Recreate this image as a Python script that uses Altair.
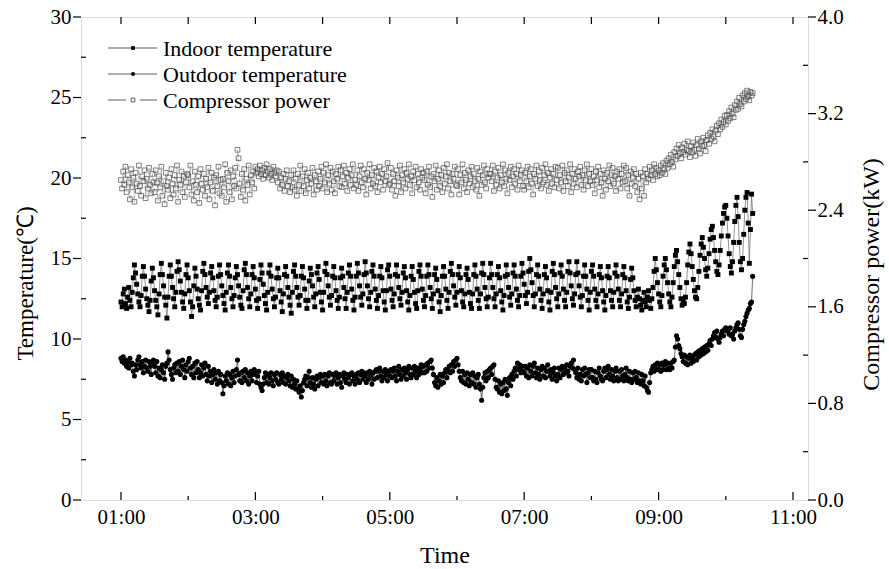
import altair as alt
import pandas as pd

# ---------------- data (sampled every 1 min from 01:00) ----------------
START_MIN = 60
STEP_MIN = 1

indoor_temp = [
    12.3, 12.0, 12.8, 13.1, 12.2, 11.9, 12.6, 13.2, 12.4, 12.0,
    12.9, 13.8, 14.6, 14.1, 13.4, 12.8, 12.3, 12.0, 12.7, 13.9,
    14.5, 13.9, 13.1, 12.5, 12.1, 11.7, 12.4, 13.6, 14.4, 13.8,
    13.0, 12.4, 12.0, 11.5, 12.8, 14.0, 14.7, 14.0, 13.3, 12.6,
    12.1, 11.3, 12.6, 13.9, 14.6, 13.9, 13.2, 12.5, 12.0, 12.9,
    14.2, 14.8, 14.3, 13.6, 12.9, 12.3, 11.9, 12.8, 14.0, 14.6,
    13.8, 13.0, 12.3, 11.4, 12.0, 13.3, 14.4, 13.9, 13.1, 12.5,
    12.1, 11.8, 13.0, 14.2, 14.7, 14.0, 13.2, 12.6, 12.2, 12.9,
    14.1, 14.5, 13.8, 13.0, 12.4, 12.0, 12.6, 13.9, 14.6, 14.0,
    13.3, 12.7, 12.2, 11.8, 12.9, 14.1, 14.6, 13.9, 13.2, 12.5,
    12.0, 12.7, 13.8, 14.5, 14.0, 13.3, 12.6, 12.1, 11.9, 13.0,
    14.3, 14.7, 14.0, 13.2, 12.5, 12.0, 12.8, 14.0, 14.5, 13.8,
    13.1, 12.4, 11.9, 12.5, 13.7, 14.6, 14.1, 13.4, 12.7, 12.2,
    11.8, 12.9, 14.1, 14.6, 13.9, 13.1, 12.5, 12.0, 12.6, 13.8,
    14.4, 13.8, 13.0, 12.3, 11.7, 12.8, 14.0, 14.5, 13.9, 13.2,
    12.6, 12.1, 11.6, 12.9, 14.2, 14.6, 13.9, 13.2, 12.6, 12.1,
    12.7, 13.9, 14.5, 13.8, 13.1, 12.4, 11.9, 12.4, 13.6, 14.4,
    14.0, 13.3, 12.6, 12.0, 12.8, 14.1, 14.5, 13.7, 12.9, 12.3,
    11.8, 12.9, 14.2, 14.7, 14.0, 13.3, 12.6, 12.1, 12.7, 13.9,
    14.5, 13.8, 13.0, 12.4, 11.9, 12.6, 13.8, 14.4, 13.9, 13.2,
    12.5, 11.9, 12.9, 14.1, 14.6, 13.9, 13.1, 12.4, 11.8, 12.6,
    13.9, 14.7, 14.1, 13.3, 12.6, 12.1, 12.8, 14.0, 14.8, 14.1,
    13.3, 12.5, 12.0, 12.9, 14.2, 14.6, 13.9, 13.1, 12.4, 11.9,
    12.7, 13.9, 14.5, 13.8, 13.0, 12.3, 11.8, 13.0, 14.3, 14.6,
    13.9, 13.1, 12.4, 12.0, 12.8, 14.0, 14.6, 13.9, 13.2, 12.5,
    12.1, 12.9, 14.1, 14.5, 13.8, 13.0, 12.3, 11.8, 12.7, 13.9,
    14.5, 13.7, 12.9, 12.2, 11.9, 13.0, 14.2, 14.6, 13.9, 13.1,
    12.4, 12.0, 12.7, 13.9, 14.6, 14.0, 13.2, 12.5, 11.9, 12.8,
    14.0, 14.4, 13.7, 13.0, 12.3, 11.7, 12.7, 13.9, 14.5, 13.9,
    13.1, 12.4, 11.9, 12.9, 14.2, 14.7, 14.0, 13.3, 12.6, 12.1,
    12.9, 14.0, 14.5, 13.8, 13.0, 12.3, 12.0, 12.8, 14.0, 14.4,
    13.7, 12.9, 12.2, 11.9, 12.8, 14.0, 14.6, 13.9, 13.1, 12.4,
    11.9, 12.8, 14.1, 14.7, 14.0, 13.2, 12.5, 12.0, 12.6, 13.8,
    14.7, 14.0, 13.2, 12.5, 12.0, 12.8, 14.0, 14.5, 13.8, 13.0,
    12.3, 11.8, 12.7, 13.9, 14.6, 14.0, 13.2, 12.6, 12.1, 12.8,
    14.1, 14.6, 13.9, 13.1, 12.4, 12.0, 12.7, 13.9, 14.7, 14.1,
    13.4, 12.7, 12.2, 12.9, 14.2, 15.0, 14.3, 13.5, 12.7, 12.0,
    12.8, 14.0, 14.6, 13.9, 13.1, 12.4, 11.9, 12.8, 14.0, 14.5,
    13.8, 13.0, 12.3, 11.8, 12.9, 14.2, 14.7, 14.0, 13.2, 12.5,
    12.0, 12.8, 14.1, 14.6, 13.9, 13.1, 12.4, 12.0, 12.9, 14.2,
    14.8, 14.1, 13.3, 12.5, 12.1, 12.8, 14.0, 14.8, 14.1, 13.3,
    12.6, 12.0, 12.7, 13.9, 14.6, 13.9, 13.1, 12.4, 11.8, 12.9,
    14.2, 14.6, 13.9, 13.1, 12.4, 12.0, 12.8, 14.0, 14.5, 13.8,
    13.0, 12.3, 11.8, 12.7, 13.9, 14.5, 13.8, 13.0, 12.4, 12.0,
    12.9, 14.1, 14.6, 13.9, 13.1, 12.4, 12.0, 12.8, 14.0, 14.5,
    13.8, 13.0, 12.3, 11.9, 12.6, 13.7, 14.4, 13.8, 13.0, 12.4,
    12.0, 12.6, 13.1, 12.5, 12.1, 11.8, 12.4, 12.9, 12.3, 12.0,
    12.6, 13.0, 12.4, 11.9, 12.5, 13.2, 14.2, 15.0, 14.3, 13.5,
    12.8, 12.3, 12.0, 12.7, 13.9, 14.6, 15.0, 14.3, 13.5, 12.8,
    12.3, 12.0, 12.6, 13.5, 14.5, 15.2, 15.5, 14.8, 14.0, 13.2,
    12.5, 12.1, 12.4, 12.2, 12.6, 13.5, 14.6, 15.4, 15.9, 15.3,
    14.5, 13.7, 13.0, 12.6, 12.5, 13.2, 14.2, 15.2, 15.9, 16.3,
    15.7, 15.0, 14.3, 13.9, 14.4, 15.3, 16.2, 16.8, 17.0, 16.3,
    15.5, 14.8, 14.2, 14.0, 14.6, 15.5, 16.4, 17.2, 17.8, 18.2,
    18.3, 17.5, 16.4, 15.3, 14.5, 14.1, 14.8, 16.0, 17.3, 18.3,
    18.8, 17.6, 16.0, 14.8, 14.3, 15.0, 16.5, 18.0, 18.8, 19.1,
    17.2, 14.7, 16.8, 19.0, 17.8,
]

outdoor_temp = [
    8.8, 8.6, 8.9, 8.5, 8.7, 8.3, 8.6, 8.2, 8.8, 8.4,
    8.5, 8.0, 7.7, 8.4, 8.1, 8.7, 8.9, 8.4, 8.2, 8.6,
    7.9, 8.3, 8.7, 8.2, 8.0, 8.6, 8.3, 7.8, 8.5, 8.7,
    8.3, 7.9, 8.6, 7.7, 8.2, 7.6, 8.1, 8.4, 7.9, 7.5,
    8.3, 8.5, 9.2, 8.7, 8.1, 7.8, 7.5, 8.2, 8.4, 7.9,
    8.5, 8.0, 8.6, 7.8, 8.3, 8.7, 8.1, 7.6, 8.4, 8.0,
    8.6, 8.8, 8.2, 7.8, 8.3, 7.6, 8.5, 7.9, 8.6, 8.1,
    7.6, 7.9, 8.4, 7.7, 8.2, 8.5, 7.8, 7.4, 8.3, 7.7,
    8.0, 7.3, 7.8, 8.1, 7.5, 7.9, 7.2, 8.0, 7.4, 7.8,
    7.3, 6.6, 7.1, 7.7, 7.4, 7.9, 7.2, 7.8, 7.1, 7.6,
    8.0, 7.3, 7.7, 8.1, 8.7, 7.8, 7.4, 7.9, 7.3, 8.0,
    7.6, 8.1, 7.4, 7.9, 7.2, 7.7, 8.0, 7.4, 7.8, 8.1,
    7.9, 7.3, 7.7, 8.0, 7.2, 7.0, 6.8, 7.2, 7.6, 7.9,
    7.3, 7.8, 7.2, 7.6, 7.9, 7.4, 7.1, 7.8, 7.5, 7.9,
    7.3, 7.2, 7.8, 7.5, 7.9, 7.3, 7.7, 7.2, 7.6, 7.8,
    7.4, 7.1, 7.7, 7.0, 7.5, 7.2, 6.9, 7.4, 6.9, 6.7,
    7.1, 6.4, 6.8, 7.3, 7.5, 7.7, 7.1, 7.6, 8.0, 7.3,
    7.0, 7.6, 7.2, 6.9, 7.5, 7.7, 7.1, 7.6, 7.8, 7.3,
    7.7, 7.2, 7.8, 7.4, 7.1, 7.7, 7.9, 7.3, 7.2, 7.8,
    7.4, 7.7, 7.9, 7.2, 7.6, 7.8, 7.3, 7.0, 7.7, 7.9,
    7.5, 7.3, 7.8, 7.6, 7.2, 7.8, 7.9, 7.4, 7.7, 7.2,
    7.8, 7.5, 7.9, 7.3, 7.8, 8.0, 7.5, 7.9, 7.7, 7.3,
    7.9, 7.5, 8.0, 7.7, 7.2, 7.9, 7.5, 8.0, 8.1, 7.6,
    8.0, 8.2, 7.7, 7.4, 8.0, 7.6, 8.1, 7.8, 7.4, 8.0,
    7.7, 8.1, 7.6, 8.0, 8.2, 7.7, 7.4, 8.0, 8.3, 7.8,
    7.5, 8.1, 7.7, 8.2, 7.9, 7.5, 8.1, 8.3, 7.8, 7.6,
    8.2, 7.8, 8.3, 8.0, 7.6, 8.2, 7.8, 8.1, 8.4, 7.9,
    8.3, 7.9, 8.4, 8.0, 8.5, 8.2, 8.6, 8.7, 8.2, 7.8,
    7.3, 7.1, 7.6, 7.0, 7.4, 7.8, 7.2, 7.7, 7.3, 7.9,
    8.1, 7.6, 8.0, 8.3, 7.9, 8.4, 8.0, 8.6, 8.3, 8.7,
    8.8, 8.4, 8.0, 7.6, 7.4, 8.0, 7.3, 7.8, 7.2, 7.9,
    7.5, 7.1, 7.8, 7.3, 7.9, 7.2, 7.7, 7.0, 7.6, 7.8,
    7.2, 6.9, 6.2, 7.0, 7.6, 7.9, 7.4, 8.0, 7.6, 8.1,
    8.2, 7.8, 8.3, 8.4, 7.5, 7.0, 6.9, 7.4, 6.7, 7.2,
    6.6, 7.3, 6.8, 7.5, 6.9, 6.5, 7.3, 7.6, 7.1, 7.8,
    7.5, 8.0, 8.2, 7.7, 8.5, 8.1, 8.4, 7.9, 8.3, 8.0,
    7.9, 8.3, 7.7, 8.2, 7.6, 8.4, 8.0, 7.7, 8.3, 8.5,
    7.9, 7.6, 8.2, 7.8, 7.5, 8.1, 8.3, 7.7, 8.2, 7.6,
    8.0, 8.4, 8.0, 7.7, 8.1, 7.5, 7.9, 8.2, 7.7, 7.4,
    7.8, 8.2, 7.6, 8.1, 8.3, 7.8, 8.2, 7.9, 8.4, 8.0,
    7.7, 8.3, 8.5, 8.2, 8.7, 8.1, 7.9, 7.6, 8.2, 7.5,
    7.8, 7.4, 8.1, 7.7, 8.2, 7.8, 7.3, 7.9, 8.1, 7.6,
    8.1, 7.6, 7.4, 8.0, 7.5, 7.3, 7.9, 8.2, 7.7, 7.5,
    7.4, 8.0, 8.2, 7.6, 8.1, 8.3, 7.8, 7.5, 8.1, 7.7,
    7.4, 8.0, 8.2, 7.6, 7.4, 8.0, 7.5, 8.1, 7.7, 7.4,
    7.8, 8.2, 7.6, 7.4, 8.0, 7.5, 7.3, 7.9, 7.5, 8.0,
    7.6, 7.3, 7.9, 7.4, 7.2, 7.8, 7.4, 7.1, 7.7, 7.0,
    6.8, 6.7, 7.3, 7.9, 8.1, 8.3, 8.0, 8.4, 8.1, 8.5,
    8.1, 8.4, 8.0, 8.5, 8.1, 8.4, 8.6, 8.1, 8.5, 8.2,
    8.1, 8.5, 8.2, 8.6, 8.7, 9.5, 10.2, 10.0, 9.6, 9.4,
    9.1, 8.9, 8.6, 9.0, 8.5, 8.9, 8.4, 8.8, 9.0, 8.5,
    8.8, 8.6, 9.0, 9.1, 8.7, 9.2, 8.9, 9.3, 9.0, 9.4,
    9.1, 9.5, 9.2, 9.6, 9.3, 9.7, 9.9, 9.6, 10.0, 10.2,
    10.4, 10.1, 10.5, 10.0, 9.8, 10.1, 10.3, 10.5, 10.2, 10.6,
    10.7, 10.5, 10.6, 10.3, 10.7, 10.2, 10.3, 10.0, 10.5, 10.7,
    10.9, 11.0, 10.6, 10.2, 10.1, 10.6, 10.9, 11.1, 11.4, 11.6,
    11.8, 11.9, 12.2, 12.3, 13.9,
]

compressor_power = [
    2.65, 2.58, 2.72, 2.61, 2.76, 2.55, 2.69, 2.63, 2.49, 2.74,
    2.59, 2.67, 2.47, 2.71, 2.62, 2.56, 2.77, 2.60, 2.52, 2.68,
    2.64, 2.73, 2.50, 2.66, 2.58, 2.75, 2.61, 2.54, 2.70, 2.63,
    2.55, 2.73, 2.63, 2.48, 2.68, 2.59, 2.76, 2.52, 2.64, 2.45,
    2.71, 2.60, 2.57, 2.67, 2.50, 2.74, 2.62, 2.53, 2.69, 2.58,
    2.77, 2.47, 2.65, 2.61, 2.72, 2.55, 2.68, 2.51, 2.63, 2.70,
    2.69, 2.59, 2.77, 2.53, 2.64, 2.48, 2.72, 2.61, 2.55, 2.68,
    2.46, 2.74, 2.62, 2.57, 2.70, 2.52, 2.66, 2.59, 2.75, 2.49,
    2.63, 2.71, 2.56, 2.67, 2.44, 2.69, 2.60, 2.76, 2.54, 2.65,
    2.52, 2.66, 2.59, 2.78, 2.47, 2.71, 2.64, 2.55, 2.73, 2.49,
    2.68, 2.60, 2.75, 2.58, 2.90, 2.83, 2.62, 2.51, 2.70, 2.57,
    2.74, 2.48, 2.66, 2.61, 2.77, 2.53, 2.69, 2.63, 2.72, 2.58,
    2.76, 2.71, 2.74, 2.68, 2.77, 2.70, 2.73, 2.66, 2.75, 2.69,
    2.78, 2.72, 2.67, 2.74, 2.70, 2.65, 2.76, 2.71, 2.68, 2.73,
    2.63, 2.72, 2.58, 2.67, 2.61, 2.70, 2.56, 2.66, 2.73, 2.60,
    2.64, 2.55, 2.69, 2.59, 2.73, 2.57, 2.66, 2.52, 2.70, 2.61,
    2.77, 2.56, 2.68, 2.60, 2.74, 2.54, 2.65, 2.71, 2.58, 2.67,
    2.62, 2.75, 2.53, 2.69, 2.64, 2.57, 2.72, 2.60, 2.66, 2.76,
    2.58, 2.71, 2.63, 2.78, 2.55, 2.69, 2.62, 2.75, 2.57, 2.72,
    2.64, 2.54, 2.70, 2.66, 2.76, 2.60, 2.73, 2.59, 2.68, 2.77,
    2.62, 2.71, 2.56, 2.67, 2.74, 2.61, 2.69, 2.78, 2.58, 2.65,
    2.61, 2.73, 2.56, 2.68, 2.77, 2.63, 2.59, 2.74, 2.66, 2.53,
    2.71, 2.65, 2.78, 2.58, 2.69, 2.62, 2.75, 2.60, 2.72, 2.55,
    2.67, 2.76, 2.63, 2.70, 2.57, 2.74, 2.64, 2.68, 2.79, 2.61,
    2.62, 2.75, 2.57, 2.70, 2.64, 2.52, 2.73, 2.67, 2.60, 2.77,
    2.55, 2.69, 2.63, 2.74, 2.58, 2.71, 2.66, 2.78, 2.61, 2.68,
    2.54, 2.72, 2.65, 2.76, 2.59, 2.70, 2.63, 2.57, 2.74, 2.67,
    2.71, 2.65, 2.54, 2.72, 2.61, 2.76, 2.59, 2.68, 2.51, 2.70,
    2.64, 2.77, 2.57, 2.66, 2.73, 2.60, 2.69, 2.55, 2.75, 2.62,
    2.68, 2.78, 2.58, 2.71, 2.64, 2.53, 2.70, 2.66, 2.76, 2.61,
    2.60, 2.74, 2.53, 2.69, 2.63, 2.78, 2.58, 2.71, 2.65, 2.55,
    2.73, 2.62, 2.68, 2.76, 2.59, 2.70, 2.64, 2.57, 2.75, 2.66,
    2.52, 2.72, 2.61, 2.69, 2.77, 2.63, 2.58, 2.74, 2.67, 2.70,
    2.70, 2.64, 2.77, 2.56, 2.72, 2.61, 2.67, 2.75, 2.58, 2.69,
    2.63, 2.78, 2.60, 2.73, 2.66, 2.54, 2.71, 2.65, 2.76, 2.59,
    2.68, 2.74, 2.62, 2.70, 2.57, 2.77, 2.64, 2.69, 2.73, 2.60,
    2.57, 2.71, 2.64, 2.76, 2.59, 2.68, 2.74, 2.62, 2.53, 2.70,
    2.66, 2.77, 2.60, 2.72, 2.65, 2.58, 2.75, 2.63, 2.69, 2.78,
    2.61, 2.71, 2.56, 2.67, 2.74, 2.62, 2.70, 2.59, 2.76, 2.65,
    2.75, 2.58, 2.69, 2.63, 2.77, 2.56, 2.71, 2.64, 2.73, 2.60,
    2.67, 2.78, 2.55, 2.70, 2.62, 2.74, 2.66, 2.59, 2.72, 2.68,
    2.76, 2.61, 2.69, 2.57, 2.73, 2.65, 2.78, 2.60, 2.70, 2.64,
    2.74, 2.61, 2.68, 2.54, 2.72, 2.65, 2.76, 2.59, 2.70, 2.63,
    2.52, 2.73, 2.66, 2.57, 2.71, 2.64, 2.77, 2.60, 2.69, 2.75,
    2.62, 2.68, 2.56, 2.72, 2.66, 2.74, 2.58, 2.70, 2.63, 2.77,
    2.64, 2.75, 2.58, 2.69, 2.52, 2.72, 2.62, 2.67, 2.74, 2.60,
    2.70, 2.55, 2.66, 2.49, 2.71, 2.58, 2.68, 2.52, 2.74, 2.63,
    2.70, 2.66, 2.76, 2.69, 2.73, 2.65, 2.78, 2.70, 2.75, 2.68,
    2.73, 2.69, 2.77, 2.71, 2.79, 2.74, 2.70, 2.81, 2.75, 2.83,
    2.78, 2.86, 2.80, 2.76, 2.88, 2.82, 2.91, 2.85, 2.94, 2.87,
    2.83, 2.92, 2.88, 2.95, 2.86, 2.90, 2.97, 2.89, 2.84, 2.93,
    2.88, 2.96, 2.90, 2.85, 2.94, 2.99, 2.91, 2.87, 2.97, 2.93,
    3.00, 2.94, 2.89, 2.98, 3.02, 2.95, 3.04, 2.99, 3.07, 3.01,
    2.97, 3.06, 3.10, 3.03, 3.12, 3.07, 3.15, 3.09, 3.13, 3.18,
    3.11, 3.19, 3.14, 3.22, 3.16, 3.25, 3.20, 3.17, 3.27, 3.23,
    3.30, 3.24, 3.33, 3.28, 3.26, 3.35, 3.30, 3.37, 3.32, 3.39,
    3.34, 3.31, 3.38, 3.35, 3.37,
]

series_names = ["Indoor temperature", "Outdoor temperature", "Compressor power"]

# axis tick values (minutes / °C / kW)
x_major = [60, 180, 300, 420, 540, 660]
x_minor = [120, 240, 360, 480, 600]
x_all = [60, 120, 180, 240, 300, 360, 420, 480, 540, 600, 660]
temp_major = [0, 5, 10, 15, 20, 25, 30]
temp_minor = [2.5, 7.5, 12.5, 17.5, 22.5, 27.5]
power_major = [0.0, 0.8, 1.6, 2.4, 3.2, 4.0]
power_minor = [0.4, 1.2, 2.0, 2.8, 3.6]


def frame(values):
    return pd.DataFrame({"t": [START_MIN + STEP_MIN * i for i in range(len(values))], "v": values})


def ticks_df(vals):
    return pd.DataFrame({"v": vals})


FONT = "Liberation Serif, Times New Roman, serif"
W, H = 727, 483

x_scale = alt.Scale(domain=[24.3, 673.4], nice=False, zero=False)
x_axis = alt.Axis(
    values=x_major,
    labelExpr="(floor(datum.value/60) < 10 ? '0' : '') + floor(datum.value/60) + ':00'",
    title="Time", ticks=False, tickSize=0, domain=False, grid=False,
    labelPadding=6, labelFont=FONT, labelFontSize=21, labelColor="black",
    titleFont=FONT, titleFontSize=24, titleFontWeight="normal", titleColor="black",
    titlePadding=16, labelFlush=False,
)
X = alt.X("t:Q", scale=x_scale, axis=x_axis)
Xv = alt.X("v:Q", scale=x_scale, axis=x_axis)

t_scale = alt.Scale(domain=[0, 30], nice=False, zero=False)
t_axis = alt.Axis(
    values=temp_major, format="d", title="Temperature(℃)", orient="left",
    ticks=False, tickSize=0, domain=False, grid=False,
    labelPadding=10, labelFont=FONT, labelFontSize=21, labelColor="black",
    titleFont=FONT, titleFontSize=23, titleFontWeight="normal", titleColor="black",
    titlePadding=13, titleY=266,
)
YT = alt.Y("v:Q", scale=t_scale, axis=t_axis)

p_scale = alt.Scale(domain=[0, 4], nice=False, zero=False)
p_axis = alt.Axis(
    values=power_major, format=".1f", title="Compressor power(kW)", orient="right",
    ticks=False, tickSize=0, domain=False, grid=False,
    labelPadding=9, labelFont=FONT, labelFontSize=21, labelColor="black",
    titleFont=FONT, titleFontSize=24, titleFontWeight="normal", titleColor="black",
    titlePadding=40, titleAngle=270, titleY=257,
)
YP = alt.Y("v:Q", scale=p_scale, axis=p_axis)

indoor_df = frame(indoor_temp)
outdoor_df = frame(outdoor_temp)
power_df = frame(compressor_power)

# ---- temperature group ----
indoor_line = alt.Chart(indoor_df).mark_line(color="#666", strokeWidth=0.7).encode(x=X, y=YT)
indoor_pts = alt.Chart(indoor_df).mark_point(
    shape="square", filled=True, color="black", size=24, opacity=1
).encode(x=X, y=YT)
outdoor_line = alt.Chart(outdoor_df).mark_line(color="#333", strokeWidth=0.7).encode(x=X, y=YT)
outdoor_pts = alt.Chart(outdoor_df).mark_point(
    shape="circle", filled=True, color="black", size=26, opacity=1
).encode(x=X, y=YT)

left_major = alt.Chart(ticks_df(temp_major)).mark_rule(color="black", strokeWidth=1.2).encode(
    y=YT, x=alt.value(-8), x2=alt.value(0))
left_minor = alt.Chart(ticks_df(temp_minor)).mark_rule(color="black", strokeWidth=1.2).encode(
    y=YT, x=alt.value(0), x2=alt.value(5))

temp_group = alt.layer(indoor_line, outdoor_line, indoor_pts, outdoor_pts, left_major, left_minor)

# ---- power group ----
power_line = alt.Chart(power_df).mark_line(color="#777", strokeWidth=0.5, strokeDash=[3, 2]).encode(x=X, y=YP)
power_pts = alt.Chart(power_df).mark_point(
    shape="square", filled=False, color="#4a4a4a", size=22, strokeWidth=0.7, opacity=1
).encode(x=X, y=YP)
right_major = alt.Chart(ticks_df(power_major)).mark_rule(color="black", strokeWidth=1.2).encode(
    y=YP, x=alt.value(W), x2=alt.value(W + 8))
right_minor = alt.Chart(ticks_df(power_minor)).mark_rule(color="black", strokeWidth=1.2).encode(
    y=YP, x=alt.value(W - 5), x2=alt.value(W))

power_group = alt.layer(power_line, power_pts, right_major, right_minor)

# ---- x ticks (inward) ----
bottom_major = alt.Chart(ticks_df(x_major)).mark_rule(color="black", strokeWidth=1.2).encode(
    x=Xv, y=alt.value(H - 8), y2=alt.value(H))
bottom_minor = alt.Chart(ticks_df(x_minor)).mark_rule(color="black", strokeWidth=1.2).encode(
    x=Xv, y=alt.value(H - 4), y2=alt.value(H))
top_ticks = alt.Chart(ticks_df(x_all)).mark_rule(color="black", strokeWidth=1.2).encode(
    x=Xv, y=alt.value(0), y2=alt.value(7))

# ---- legend ----
leg_df = pd.DataFrame({"name": series_names})
legend_layers = []
rows_y = [31, 57, 83]
for i, name in enumerate(series_names):
    y = rows_y[i]
    base = alt.Chart(leg_df.iloc[[i]])
    if i < 2:
        legend_layers.append(base.mark_rule(color="#333", strokeWidth=0.8).encode(
            x=alt.value(27), x2=alt.value(76), y=alt.value(y)))
    else:
        legend_layers.append(base.mark_rule(color="#333", strokeWidth=0.8).encode(
            x=alt.value(27), x2=alt.value(45), y=alt.value(y)))
        legend_layers.append(base.mark_rule(color="#333", strokeWidth=0.8).encode(
            x=alt.value(59), x2=alt.value(76), y=alt.value(y)))
    if i == 0:
        mk = base.mark_point(shape="square", filled=True, color="black", size=14, opacity=1)
    elif i == 1:
        mk = base.mark_point(shape="circle", filled=True, color="black", size=16, opacity=1)
    else:
        mk = base.mark_point(shape="square", filled=False, color="#333", size=14, strokeWidth=0.8, opacity=1)
    legend_layers.append(mk.encode(x=alt.value(52), y=alt.value(y)))
    legend_layers.append(base.mark_text(
        align="left", baseline="middle", font=FONT, fontSize=22, color="black"
    ).encode(x=alt.value(82), y=alt.value(y + 1), text="name:N"))

chart = alt.layer(
    power_group, temp_group, bottom_major, bottom_minor, top_ticks, *legend_layers
).resolve_scale(y="independent").properties(
    width=W, height=H,
    autosize=alt.AutoSizeParams(type="none"),
    padding={"left": 81, "top": 17, "right": 81, "bottom": 69},
).configure_view(stroke="black", strokeWidth=1.5).configure(background="white")

chart.save("out.html", embed_options={"renderer": "svg", "actions": False})
